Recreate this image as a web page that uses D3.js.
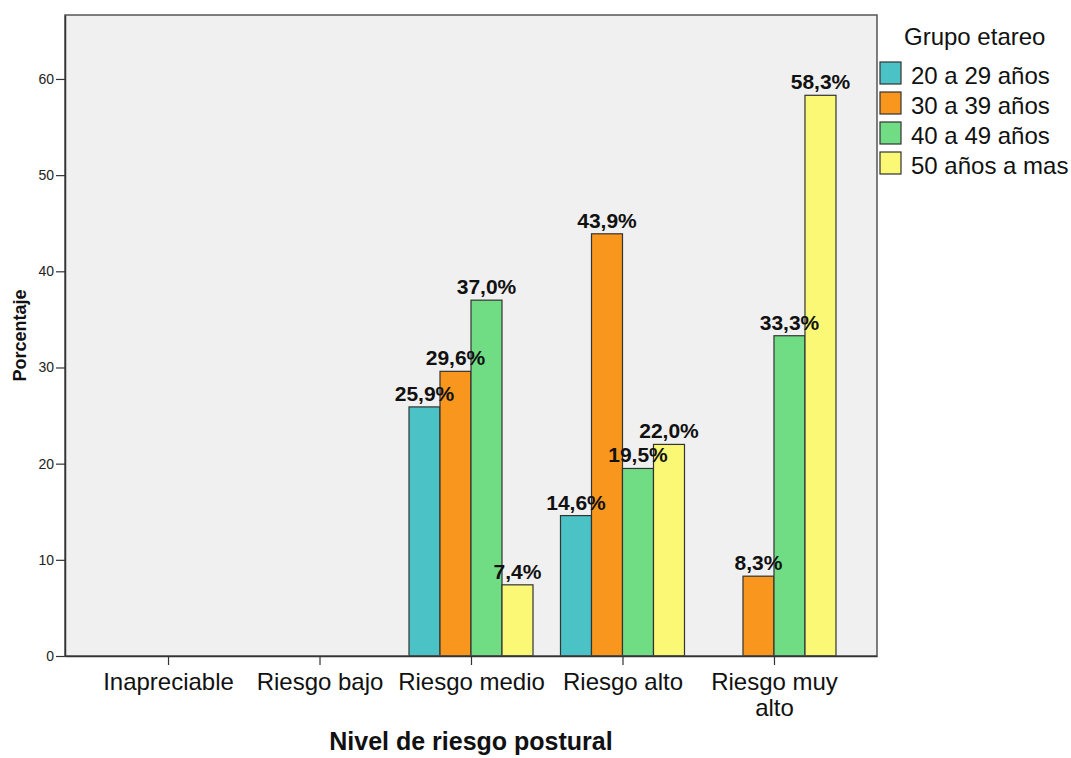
<!DOCTYPE html>
<html>
<head>
<meta charset="utf-8">
<script src="https://cdn.jsdelivr.net/npm/d3@7"></script>
<style>
  body { margin: 0; background: #fff; }
  svg { font-family: Arial, "Liberation Sans", sans-serif; }
</style>
</head>
<body>
<svg id="chart" width="1071" height="758"></svg>
<script>
// categories on the x axis
const niveles = ["Inapreciable", "Riesgo bajo", "Riesgo medio", "Riesgo alto", "Riesgo muy alto"]
// age groups (legend)
const grupos = ["20 a 29 años", "30 a 39 años", "40 a 49 años", "50 años a mas"]
// percentages per group, one value for each nivel
const g20 = [0, 0, 25.9, 14.6, 0]
const g30 = [0, 0, 29.6, 43.9, 8.3]
const g40 = [0, 0, 37.0, 19.5, 33.3]
const g50 = [0, 0, 7.4, 22.0, 58.3]
const yTicks = [0, 10, 20, 30, 40, 50, 60]
const colores = ["#4bc2c5", "#f8961e", "#70dd85", "#fbf876"]

const series = [g20, g30, g40, g50]
let data = []
niveles.forEach((n, i) => {
    grupos.forEach((g, j) => {
        data.push({ nivel: n, grupo: g, value: series[j][i] })
    })
})

// plot frame
const margin = { top: 15, right: 194, bottom: 102, left: 65 }
const width = 1071 - margin.left - margin.right
const height = 758 - margin.top - margin.bottom
const font = "Arial, 'Liberation Sans', sans-serif"

const svg = d3.select("#chart")
const g = svg.append("g").attr("transform", `translate(${margin.left},${margin.top})`)

let x = d3.scalePoint().domain(niveles).range([0, width]).padding(0.68)
let xInner = d3.scaleBand().domain(grupos).range([-62, 62])
let y = d3.scaleLinear().domain([0, 66.65]).range([height, 0])
let color = d3.scaleOrdinal().domain(grupos).range(colores)

g.append("rect")
    .attr("width", width).attr("height", height)
    .attr("fill", "#f0f0f0")

// bars
let bars = data.filter(d => d.value > 0)
g.selectAll(".bar")
    .data(bars)
    .join("rect")
    .attr("class", "bar")
    .attr("x", d => x(d.nivel) + xInner(d.grupo))
    .attr("y", d => y(d.value))
    .attr("width", xInner.bandwidth())
    .attr("height", d => height - y(d.value))
    .attr("fill", d => color(d.grupo))
    .attr("stroke", "#333")
    .attr("stroke-width", 1.2)

// value labels
g.selectAll(".label")
    .data(bars)
    .join("text")
    .attr("class", "label")
    .attr("x", d => x(d.nivel) + xInner(d.grupo) + xInner.bandwidth() / 2)
    .attr("y", d => y(d.value) - 6)
    .attr("text-anchor", "middle")
    .attr("font-size", 21)
    .attr("font-weight", "bold")
    .attr("fill", "#111")
    .text(d => d.value.toFixed(1).replace(".", ",") + "%")

// frame on top
g.append("rect")
    .attr("width", width).attr("height", height)
    .attr("fill", "none")
    .attr("stroke", "#555")
    .attr("stroke-width", 1.5)

// y axis
let yAxis = d3.axisLeft(y).tickValues(yTicks).tickSize(9).tickSizeOuter(0).tickPadding(2)
let ya = g.append("g").call(yAxis)
ya.select(".domain").attr("stroke", "#333").attr("stroke-width", 1.5)
ya.selectAll(".tick line").attr("stroke", "#333").attr("stroke-width", 1.2)
ya.selectAll(".tick text").attr("font-size", 14).attr("fill", "#222").attr("font-family", font)

// x axis
let xAxis = d3.axisBottom(x).tickSize(9).tickSizeOuter(0).tickPadding(8)
let xa = g.append("g").attr("transform", `translate(0,${height})`).call(xAxis)
xa.select(".domain").attr("stroke", "#333").attr("stroke-width", 1.5)
xa.selectAll(".tick line").attr("stroke", "#333").attr("stroke-width", 1.2)
xa.selectAll(".tick text")
    .attr("font-size", 24).attr("fill", "#111").attr("font-family", font)
    .each(function (d) {
        // wrap the long label into two lines
        if (d === "Riesgo muy alto") {
            let t = d3.select(this)
            t.text(null)
            t.append("tspan").attr("x", 0).attr("dy", "0.71em").text("Riesgo muy")
            t.append("tspan").attr("x", 0).attr("dy", "1.08em").text("alto")
            t.attr("dy", null)
        }
    })

// axis titles
svg.append("text")
    .attr("transform", `translate(26,${margin.top + height / 2}) rotate(-90)`)
    .attr("text-anchor", "middle")
    .attr("font-size", 18)
    .attr("font-weight", "bold")
    .attr("fill", "#111")
    .text("Porcentaje")

svg.append("text")
    .attr("x", margin.left + width / 2)
    .attr("y", 750)
    .attr("text-anchor", "middle")
    .attr("font-size", 25)
    .attr("font-weight", "bold")
    .attr("fill", "#111")
    .text("Nivel de riesgo postural")

// legend
let legend = svg.append("g").attr("transform", "translate(880,0)")
legend.append("text")
    .attr("x", 24).attr("y", 45)
    .attr("font-size", 24)
    .attr("fill", "#111")
    .text("Grupo etareo")
let items = legend.selectAll(".item")
    .data(grupos)
    .join("g")
    .attr("class", "item")
    .attr("transform", (d, i) => `translate(0,${62 + i * 30})`)
items.append("rect")
    .attr("width", 21).attr("height", 22)
    .attr("fill", d => color(d))
    .attr("stroke", "#333")
    .attr("stroke-width", 1.2)
items.append("text")
    .attr("x", 31).attr("y", 22)
    .attr("font-size", 24)
    .attr("fill", "#111")
    .text(d => d)
</script>
</body>
</html>
